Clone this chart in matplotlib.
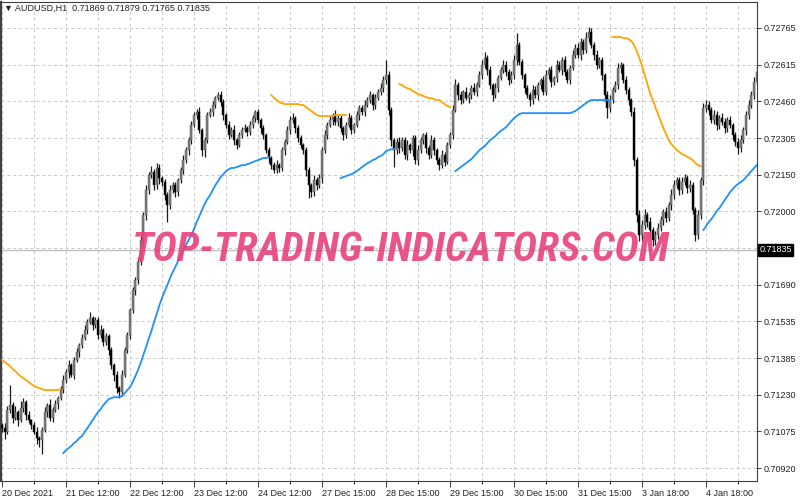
import numpy as np
import matplotlib
matplotlib.use("Agg")
import matplotlib.pyplot as plt
from matplotlib import font_manager
from matplotlib.transforms import blended_transform_factory

# ---- data: AUDUSD H1, prices in points (1 point = 0.00001) ----
first_open = 71100
closes = [
    # 20 Dec
    71088, 71071, 71163, 71184, 71130, 71155, 71121, 71172, 71197, 71142, 71121, 71100,
    71071, 71046, 71038, 71079, 71155, 71184, 71130, 71163, 71188, 71214, 71247, 71289,
    # 21 Dec
    71322, 71352, 71310, 71373, 71406, 71435, 71465, 71498, 71532, 71549, 71519, 71540,
    71477, 71498, 71448, 71473, 71414, 71352, 71310, 71255, 71238, 71310, 71414, 71477,
    # 22 Dec
    71582, 71666, 71708, 71783, 71876, 71980, 72085, 72148, 72161, 72106, 72178, 72136,
    72119, 72064, 72022, 72085, 72106, 72077, 72127, 72169, 72211, 72253, 72295, 72358,
    # 23 Dec
    72400, 72412, 72337, 72253, 72295, 72400, 72412, 72442, 72471, 72484, 72454, 72400,
    72358, 72316, 72337, 72295, 72274, 72316, 72337, 72345, 72328, 72358, 72387, 72412,
    # 24 Dec
    72379, 72345, 72316, 72253, 72220, 72190, 72169, 72190, 72178, 72253, 72287, 72337,
    72379, 72387, 72345, 72303, 72274, 72253, 72169, 72106, 72077, 72127, 72106, 72136,
    # 27 Dec
    72253, 72316, 72358, 72379, 72400, 72371, 72387, 72345, 72316, 72358, 72387, 72337,
    72358, 72400, 72429, 72412, 72442, 72463, 72484, 72442, 72471, 72496, 72513, 72547,
    # 28 Dec
    72568, 72421, 72295, 72253, 72287, 72261, 72295, 72232, 72274, 72253, 72303, 72211,
    72253, 72295, 72316, 72261, 72232, 72295, 72253, 72211, 72190, 72232, 72203, 72274,
    # 29 Dec
    72316, 72421, 72526, 72484, 72463, 72496, 72471, 72484, 72513, 72496, 72526, 72568,
    72610, 72639, 72589, 72526, 72484, 72513, 72555, 72589, 72610, 72580, 72547, 72568,
    # 30 Dec
    72630, 72693, 72622, 72568, 72513, 72484, 72463, 72505, 72484, 72526, 72547, 72496,
    72568, 72589, 72538, 72555, 72610, 72589, 72630, 72580, 72547, 72597, 72651, 72681,
    # 31 Dec
    72651, 72706, 72672, 72723, 72748, 72693, 72651, 72610, 72630, 72568, 72484, 72429,
    72463, 72505, 72526, 72597, 72610, 72547, 72505, 72463, 72412, 72211, 71980, 71897,
    # 3 Jan
    71939, 71980, 71951, 71918, 71876, 71897, 71926, 71960, 71993, 71968, 72022, 72064,
    72106, 72127, 72085, 72119, 72136, 72094, 72106, 72001, 71897, 71980, 72127, 72429,
    # 4 Jan
    72442, 72421, 72379, 72400, 72358, 72387, 72371, 72345, 72379, 72358, 72316, 72287,
    72261, 72295, 72337, 72400, 72442, 72484, 72538, 72580,
]
# wick length above / below the body, in points
up_wick = [
    10, 20, 15, 84, 12, 25, 8, 30, 15, 10, 18, 6, 12, 20, 10, 15, 22, 10, 25, 12, 18, 8, 15, 20,
    15, 20, 10, 12, 18, 10, 15, 20, 12, 25, 10, 15, 12, 20, 10, 15, 8, 12, 10, 15, 10, 20, 15, 12,
    10, 15, 12, 20, 15, 12, 20, 15, 25, 12, 20, 15, 10, 12, 15, 20, 12, 15, 10, 12, 20, 15, 12, 18,
    12, 15, 20, 10, 15, 12, 18, 15, 10, 13, 15, 12, 10, 15, 12, 20, 10, 15, 12, 18, 10, 15, 12, 10,
    15, 10, 12, 8, 15, 10, 12, 20, 10, 15, 12, 18, 15, 20, 10, 12, 15, 10, 12, 15, 10, 20, 12, 15,
    15, 20, 12, 15, 10, 20, 12, 15, 10, 12, 20, 15, 10, 18, 12, 15, 20, 12, 15, 10, 18, 12, 20, 15,
    63, 15, 12, 10, 15, 20, 12, 15, 20, 10, 15, 12, 20, 15, 10, 12, 15, 20, 12, 10, 15, 20, 12, 15,
    15, 20, 25, 12, 15, 10, 20, 12, 15, 20, 12, 15, 20, 25, 12, 15, 10, 20, 15, 12, 20, 15, 12, 18,
    20, 50, 15, 12, 10, 15, 12, 20, 15, 12, 10, 15, 20, 12, 15, 10, 20, 15, 12, 18, 15, 12, 20, 15,
    20, 15, 12, 25, 21, 15, 12, 20, 15, 12, 10, 15, 20, 12, 15, 20, 12, 10, 15, 12, 10, 20, 15, 20,
    20, 25, 15, 20, 12, 15, 20, 15, 12, 20, 15, 25, 20, 15, 12, 20, 15, 12, 20, 15, 12, 20, 15, 20,
    20, 15, 12, 20, 15, 12, 20, 15, 12, 15, 10, 12, 15, 20, 12, 15, 20, 15, 20, 25,
]
down_wick = [
    15, 30, 10, 12, 20, 8, 25, 10, 15, 20, 12, 18, 10, 25, 30, 59, 10, 20, 12, 15, 10, 20, 8, 12,
    12, 25, 10, 15, 10, 20, 12, 8, 15, 10, 20, 12, 18, 10, 15, 12, 20, 15, 25, 20, 25, 15, 10, 12,
    15, 12, 20, 15, 12, 25, 20, 15, 12, 20, 15, 25, 18, 20, 71, 15, 12, 20, 15, 12, 15, 12, 20, 15,
    10, 15, 12, 25, 30, 12, 10, 15, 12, 10, 15, 20, 12, 15, 10, 20, 15, 10, 12, 8, 15, 10, 12, 15,
    12, 20, 15, 12, 20, 15, 12, 10, 15, 12, 20, 10, 15, 12, 20, 15, 12, 18, 25, 55, 20, 15, 20, 12,
    20, 12, 15, 10, 20, 12, 18, 15, 20, 12, 10, 15, 12, 10, 20, 12, 15, 10, 12, 20, 15, 10, 12, 15,
    15, 20, 25, 71, 15, 20, 12, 15, 20, 12, 25, 15, 20, 12, 15, 20, 15, 12, 20, 15, 20, 12, 15, 10,
    12, 15, 10, 20, 15, 12, 10, 20, 15, 12, 18, 10, 15, 12, 20, 15, 25, 12, 15, 10, 12, 15, 20, 12,
    15, 20, 12, 15, 20, 12, 25, 15, 12, 20, 15, 12, 10, 15, 20, 12, 15, 10, 20, 15, 12, 15, 10, 12,
    12, 20, 15, 12, 15, 10, 20, 15, 12, 20, 25, 42, 15, 12, 10, 15, 20, 12, 15, 20, 15, 25, 30, 25,
    25, 15, 20, 30, 25, 20, 15, 12, 20, 15, 12, 20, 15, 12, 20, 15, 12, 20, 15, 15, 25, 15, 15, 20,
    15, 20, 12, 15, 20, 15, 12, 20, 15, 12, 20, 15, 25, 15, 12, 20, 15, 12, 15, 12,
]

# trend line indicator: (first bar, values); orange = down, blue = up
down_1 = (0, [71373, 71364, 71356, 71347, 71335, 71326, 71314, 71305, 71297, 71289, 71280, 71272,
              71264, 71259, 71255, 71251, 71247, 71247, 71247, 71247, 71247, 71247, 71251])
up_1 = (23, [70983, 70995, 71004, 71012, 71025, 71033, 71046, 71054, 71071, 71087, 71104, 71121,
             71138, 71155, 71167, 71184, 71196, 71209, 71213, 71217, 71217, 71217, 71222, 71234,
             71247, 71259, 71280, 71305, 71331, 71360, 71394, 71427, 71461, 71494, 71532, 71565,
             71603, 71633, 71662, 71687, 71716, 71742, 71763, 71788, 71809, 71834, 71855, 71876,
             71897, 71922, 71951, 71976, 72002, 72027, 72048, 72064, 72085, 72106, 72123, 72140,
             72152, 72165, 72173, 72178, 72178, 72182, 72186, 72190, 72190, 72194, 72198, 72203,
             72207, 72211, 72215, 72220, 72220, 72224])
down_2 = (101, [72484, 72471, 72463, 72454, 72450, 72446, 72446, 72446, 72446, 72446, 72446, 72442,
                72442, 72433, 72425, 72417, 72408, 72400, 72396, 72396, 72396, 72396, 72396, 72396,
                72400, 72400, 72400, 72400, 72400])
up_2 = (127, [72136, 72140, 72144, 72148, 72152, 72157, 72165, 72173, 72182, 72190, 72198, 72203,
              72211, 72215, 72224, 72228, 72236, 72249, 72253, 72257, 72257])
down_3 = (149, [72530, 72526, 72517, 72513, 72509, 72500, 72496, 72488, 72484, 72480, 72475, 72471,
                72471, 72467, 72463, 72463, 72454, 72446, 72438, 72433])
up_3 = (170, [72165, 72173, 72182, 72190, 72198, 72207, 72215, 72228, 72240, 72253, 72261, 72270,
              72282, 72295, 72303, 72312, 72324, 72333, 72341, 72349, 72362, 72375, 72387, 72396,
              72404, 72408, 72408, 72408, 72408, 72408, 72408, 72408, 72408, 72408, 72408, 72408,
              72408, 72408, 72408, 72408, 72408, 72408, 72408, 72408, 72412, 72417, 72425, 72433,
              72442, 72450, 72458, 72463, 72463, 72463, 72463, 72463, 72463, 72463, 72463])
down_4 = (229, [72727, 72727, 72727, 72727, 72723, 72723, 72718, 72710, 72693, 72668, 72639, 72605,
                72568, 72530, 72492, 72463, 72433, 72404, 72375, 72345, 72320, 72295, 72278, 72266,
                72253, 72245, 72236, 72232, 72224, 72220, 72211, 72198, 72190, 72186])
up_4 = (263, [71918, 71934, 71951, 71964, 71980, 71997, 72010, 72027, 72044, 72060, 72077, 72090,
              72102, 72111, 72119, 72127, 72140, 72152, 72165, 72178, 72190])

date_labels = ["20 Dec 2021", "21 Dec 12:00", "22 Dec 12:00", "23 Dec 12:00", "24 Dec 12:00",
               "27 Dec 15:00", "28 Dec 15:00", "29 Dec 15:00", "30 Dec 15:00", "31 Dec 15:00",
               "3 Jan 18:00", "4 Jan 18:00"]
price_labels = ["0.70920", "0.71075", "0.71230", "0.71385", "0.71535", "0.71690", "",
                "0.72000", "0.72150", "0.72305", "0.72460", "0.72615", "0.72765"]
last_price = 0.71835
header = "\u25BC AUDUSD,H1  0.71869 0.71879 0.71765 0.71835"
watermark = "TOP-TRADING-INDICATORS.COM"

# ---- derived OHLC ----
pt = 1e-5
c = np.array(closes) * pt
o = np.concatenate([[first_open * pt], c[:-1]])
h = np.maximum(o, c) + np.array(up_wick) * pt
l = np.minimum(o, c) - np.array(down_wick) * pt
x = np.arange(len(c))

plt.rcParams['font.family'] = ['Liberation Sans', 'DejaVu Sans']

fig = plt.figure(figsize=(8, 5), dpi=100)
ax = fig.add_axes([1 / 800, 19 / 500, 756 / 800, 479 / 500])

# grid
grid_prices = 0.70920 + np.arange(13) * 0.0015375
for gp in grid_prices:
    ax.axhline(gp, color='#c8c8c8', lw=0.7, ls=(0, (3, 3)), zorder=0)
for gx in range(0, len(c), 12):
    ax.axvline(gx, color='#c8c8c8', lw=0.7, ls=(0, (3, 3)), zorder=0)

ax.axhline(last_price, color='#c0c0c0', lw=1.0, zorder=1)

# candles
bull = c >= o
ax.vlines(x, l, h, color='#1a1a1a', lw=0.9, zorder=2)
body_h = np.maximum(np.abs(c - o), 0.8 * pt)
ax.bar(x[bull], body_h[bull], bottom=np.minimum(o, c)[bull], width=0.8,
       color='#7c7c7c', edgecolor='#555555', lw=0.3, zorder=3)
ax.bar(x[~bull], body_h[~bull], bottom=np.minimum(o, c)[~bull], width=0.8,
       color='black', edgecolor='black', lw=0.3, zorder=3)

# trend line
for seg, col in [(down_1, '#ffa500'), (up_1, '#1e90ff'), (down_2, '#ffa500'), (up_2, '#1e90ff'),
                 (down_3, '#ffa500'), (up_3, '#1e90ff'), (down_4, '#ffa500'), (up_4, '#1e90ff')]:
    start, vals = seg
    ax.plot(np.arange(start, start + len(vals)), np.array(vals) * pt, color=col, lw=1.3, zorder=4)

ax.set_xlim(-0.375, 283.1)
ax.set_ylim(0.708656, 0.728740)

# axes / ticks
for s in ax.spines.values():
    s.set_color('#404040')
    s.set_linewidth(0.8)
ax.spines['left'].set_linewidth(1.6)
ax.yaxis.tick_right()
ax.set_yticks(grid_prices)
ax.set_yticklabels(price_labels)
ax.tick_params(axis='y', length=3, width=0.6, pad=2, labelsize=6.5, colors='#202020')
ax.set_xticks(np.arange(0, 24 * len(date_labels), 24))
ax.set_xticklabels(date_labels)
ax.set_xticks(np.arange(12, len(c), 24), minor=True)
ax.tick_params(axis='x', which='major', length=4, width=0.6, pad=2, labelsize=6.5, colors='#202020')
ax.tick_params(axis='x', which='minor', length=2, width=0.6)
for lab in ax.get_xticklabels():
    lab.set_ha('left')

# current price tag
tr = blended_transform_factory(ax.transAxes, ax.transData)
ax.text(1.003, last_price, "0.71835", transform=tr, ha='left', va='center', fontsize=6.5,
        color='white', bbox=dict(boxstyle='square,pad=0.15', fc='black', ec='black'), clip_on=False)

fig.text(4 / 800, 1 - 8 / 500, header, fontsize=6.5, va='center', ha='left', color='#202020')

# watermark
wm_family = ['DejaVu Sans']
for fam in ['Liberation Sans Narrow', 'DejaVu Sans Condensed', 'Roboto Condensed']:
    try:
        font_manager.findfont(font_manager.FontProperties(family=fam), fallback_to_default=False)
        wm_family = [fam]
        break
    except ValueError:
        pass
wm = fig.text(401 / 800, 0.5, watermark, family=wm_family, fontweight='heavy', style='italic',
              fontsize=30, color='#e8417c', alpha=0.9, ha='center', va='center', zorder=10)
fig.canvas.draw()
bb = wm.get_window_extent()
wm.set_fontsize(30 * 537 / bb.width)

fig.savefig("out.png", dpi=100)
